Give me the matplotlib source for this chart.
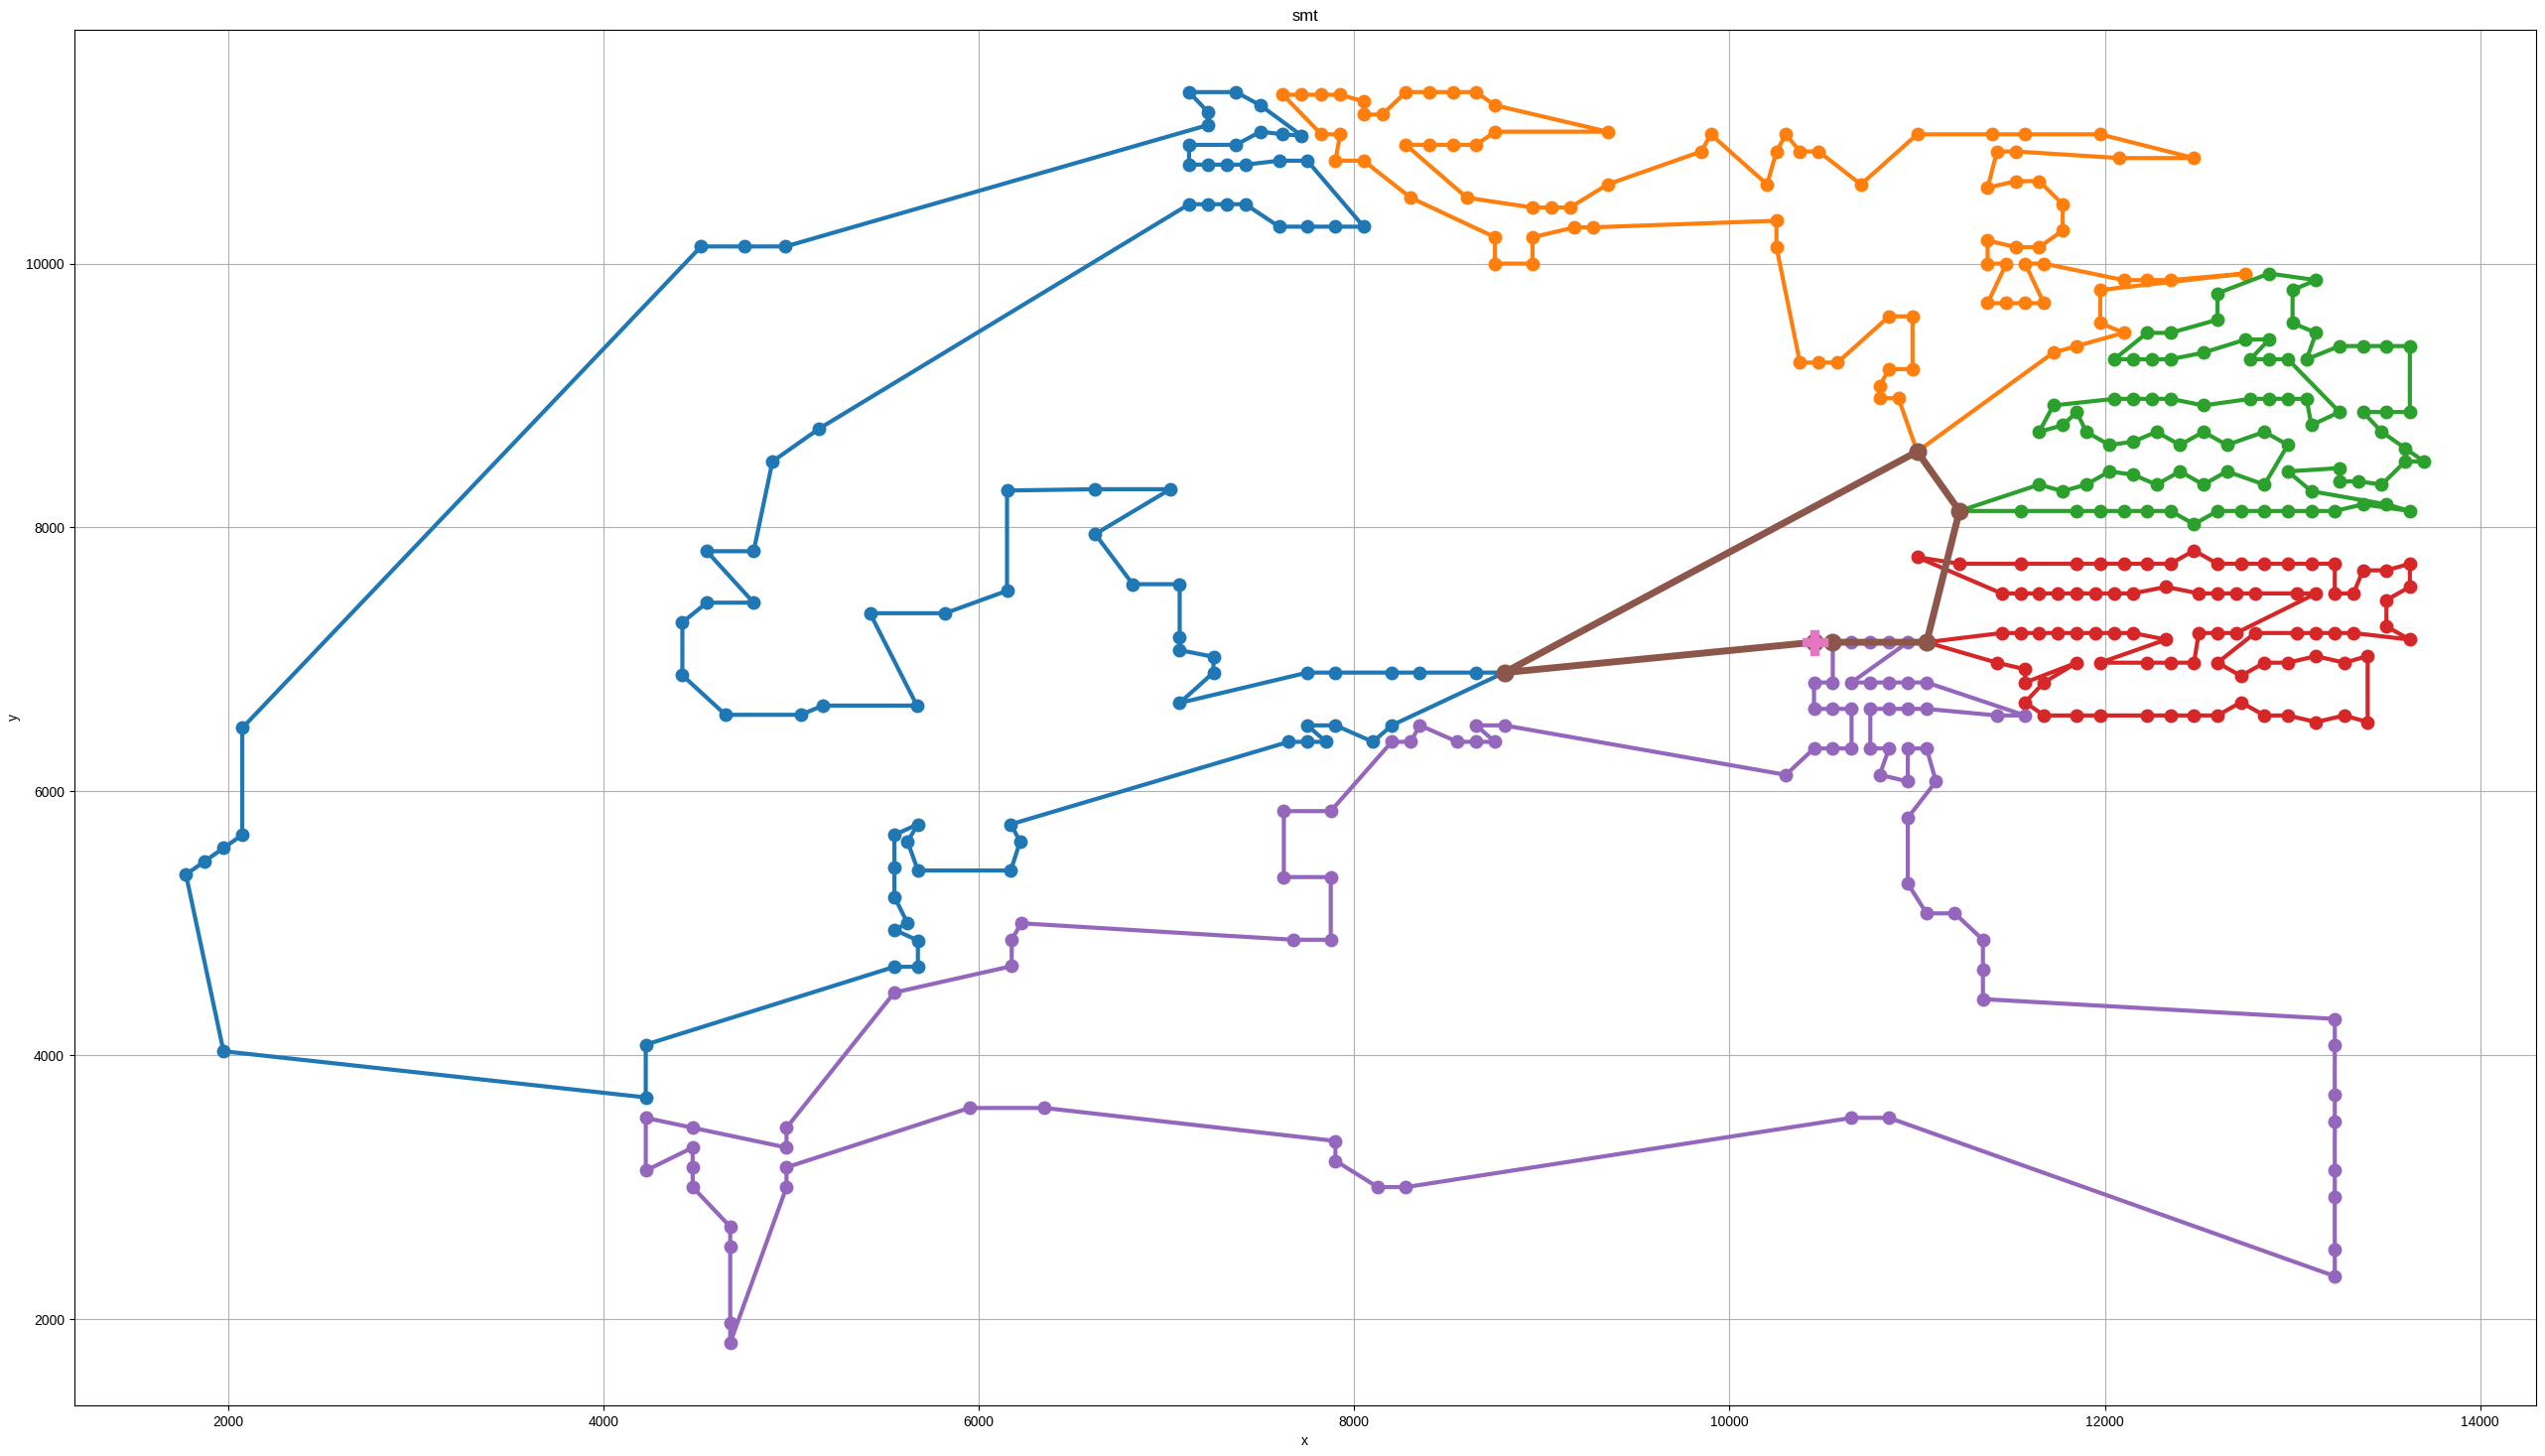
import matplotlib

matplotlib.use("Agg")
import matplotlib.pyplot as plt

plt.rcParams["font.family"] = ["Liberation Sans", "DejaVu Sans"]

# route 1 (blue) starts/ends at hub (8800, 6900)
blue_x = [8800, 8650, 8350, 8200, 7900, 7750, 7070, 7250, 7250, 7070, 7070, 7070, 6820, 6620,
          7020, 6620, 6150, 6150, 5820, 5420, 5670, 5170, 5050, 4650, 4420, 4420, 4550, 4800,
          4550, 4800, 4900, 5150, 7120, 7220, 7320, 7420, 7600, 7750, 7900, 8050, 7750, 7600,
          7420, 7320, 7220, 7120, 7120, 7370, 7500, 7620, 7720, 7500, 7370, 7120, 7220, 7220,
          4970, 4750, 4520, 2075, 2075, 1975, 1875, 1775, 1975, 4225, 4225, 5550, 5675, 5675,
          5550, 5620, 5550, 5550, 5550, 5675, 5620, 5675, 6170, 6220, 6170, 7650, 7750, 7850,
          7750, 7900, 8100, 8200, 8800]
blue_y = [6900, 6900, 6900, 6900, 6900, 6900, 6670, 6900, 7020, 7070, 7170, 7570, 7570, 7950,
          8290, 8290, 8280, 7520, 7350, 7350, 6650, 6650, 6580, 6580, 6880, 7280, 7430, 7430,
          7820, 7820, 8500, 8750, 10450, 10450, 10450, 10450, 10280, 10280, 10280, 10280, 10780, 10780,
          10750, 10750, 10750, 10750, 10900, 10900, 11000, 10980, 10970, 11200, 11300, 11300, 11150, 11050,
          10130, 10130, 10130, 6480, 5670, 5570, 5470, 5370, 4030, 3680, 4080, 4670, 4670, 4870,
          4950, 5000, 5200, 5420, 5670, 5750, 5620, 5400, 5400, 5620, 5750, 6375, 6375, 6375,
          6500, 6500, 6375, 6500, 6900]

# route 2 (orange) from hub (11000, 8575)
orange_x = [11000, 10900, 10800, 10800, 10850, 10975, 10975, 10850, 10575, 10475, 10375, 10250,
            10250, 9275, 9175, 8950, 8950, 8750, 8750, 8300, 8050, 7900, 7925, 7825, 7620, 7720,
            7825, 7925, 8050, 8050, 8150, 8275, 8400, 8525, 8650, 8750, 9350, 8750, 8650, 8525,
            8400, 8275, 8600, 8950, 9050, 9150, 9350, 9850, 9900, 10200, 10250, 10300, 10375,
            10475, 10700, 11000, 11400, 11575, 11975, 12475, 12075, 11525, 11425, 11375, 11525,
            11650, 11775, 11775, 11650, 11525, 11375, 11375, 11475, 11375, 11475, 11575, 11675,
            11575, 11675, 12100, 12225, 12350, 12750, 11975, 11975, 12100, 11850, 11725, 11000]
orange_y = [8575, 8980, 8980, 9075, 9200, 9200, 9600, 9600, 9250, 9250, 9250, 10125,
            10325, 10275, 10275, 10200, 10000, 10000, 10200, 10500, 10780, 10780, 10980, 10980, 11280, 11280,
            11280, 11280, 11230, 11130, 11130, 11300, 11300, 11300, 11300, 11200, 11000, 11000, 10900, 10900,
            10900, 10900, 10500, 10425, 10425, 10425, 10600, 10850, 10980, 10600, 10850, 10980, 10850,
            10850, 10600, 10980, 10980, 10980, 10980, 10800, 10800, 10850, 10850, 10575, 10625,
            10625, 10450, 10250, 10125, 10125, 10175, 10000, 10000, 9700, 9700, 9700, 9700,
            10000, 10000, 9875, 9875, 9875, 9925, 9800, 9550, 9475, 9375, 9325, 8575]

# route 3 (green) from hub (11225, 8125)
green_x = [11225, 11650, 11775, 11900, 12025, 12150, 12275, 12400, 12525, 12650, 12850, 12975,
           12850, 12650, 12525, 12400, 12275, 12150, 12025, 11900, 11850, 11775, 11650, 11725,
           12050, 12150, 12250, 12350, 12525, 12775, 12875, 12975, 13075, 13100, 13250, 12975,
           12875, 12775, 12875, 12750, 12525, 12350, 12250, 12150, 12050, 12225, 12350, 12600,
           12600, 12875, 13125, 13000, 13000, 13125, 13075, 13250, 13375, 13500, 13625, 13625,
           13500, 13375, 13475, 13600, 13700, 13600, 13475, 13350, 13250, 13250, 12975, 13100,
           13500, 13625, 13375, 13225, 13100, 12975, 12850, 12725, 12600, 12475, 12350, 12225,
           12100, 11975, 11850, 11550, 11225]
green_y = [8125, 8325, 8275, 8325, 8425, 8400, 8325, 8425, 8325, 8425, 8325, 8625,
           8725, 8625, 8725, 8625, 8725, 8650, 8625, 8725, 8875, 8775, 8725, 8925,
           8975, 8975, 8975, 8975, 8925, 8975, 8975, 8975, 8975, 8775, 8875, 9275,
           9275, 9275, 9425, 9425, 9325, 9275, 9275, 9275, 9275, 9475, 9475, 9575,
           9775, 9925, 9875, 9800, 9550, 9475, 9275, 9375, 9375, 9375, 9375, 8875,
           8875, 8875, 8725, 8600, 8500, 8500, 8325, 8350, 8350, 8450, 8425, 8275,
           8175, 8125, 8175, 8125, 8125, 8125, 8125, 8125, 8125, 8025, 8125, 8125,
           8125, 8125, 8125, 8125, 8125]

# route 4 (red) from hub (11050, 7130)
red_x = [11050, 11425, 11575, 11575, 11850, 11675, 11575, 11675, 11850, 11975, 12225, 12350,
         12475, 12600, 12725, 12850, 12975, 13125, 13275, 13400, 13400, 13275, 13125, 12975,
         12850, 12725, 12600, 12800, 13025, 13125, 13225, 13325, 13625, 13500, 13500, 13625,
         13625, 13500, 13375, 13325, 13225, 13225, 13100, 12975, 12850, 12725, 12600, 12475,
         12350, 12225, 12100, 11975, 11850, 11550, 11225, 11000, 11450, 11550, 11650, 11750,
         11850, 11950, 12050, 12150, 12325, 12500, 12600, 12700, 12800, 13025, 13125, 12700,
         12600, 12500, 12475, 12350, 12225, 11975, 12325, 12150, 12050, 11950, 11850, 11750,
         11650, 11550, 11450, 11050]
red_y = [7130, 6975, 6925, 6825, 6975, 6825, 6675, 6575, 6575, 6575, 6575, 6575,
         6575, 6575, 6675, 6575, 6575, 6525, 6575, 6525, 7025, 6975, 7025, 6975,
         6975, 6875, 6975, 7200, 7200, 7200, 7200, 7200, 7150, 7250, 7450, 7550,
         7725, 7675, 7675, 7500, 7500, 7725, 7725, 7725, 7725, 7725, 7725, 7825,
         7725, 7725, 7725, 7725, 7725, 7725, 7725, 7775, 7500, 7500, 7500, 7500,
         7500, 7500, 7500, 7500, 7550, 7500, 7500, 7500, 7500, 7500, 7500, 7200,
         7200, 7200, 6975, 6975, 6975, 6975, 7150, 7200, 7200, 7200, 7200, 7200,
         7200, 7200, 7200, 7130]

# route 5 (purple) from hub (10550, 7130)
purple_x = [10550, 10550, 10450, 10450, 10550, 10650, 10650, 10550, 10450, 10300, 8800, 8650,
            8750, 8650, 8550, 8350, 8300, 8200, 7875, 7625, 7625, 7875, 7875, 7675, 6225, 6175,
            6175, 5550, 4975, 4975, 4475, 4225, 4225, 4475, 4475, 4475, 4675, 4675, 4675, 4675,
            4975, 4975, 5950, 6350, 7900, 7900, 8125, 8275, 10650, 10850, 13225, 13225, 13225,
            13225, 13225, 13225, 13225, 13225, 11350, 11350, 11350, 11200, 11050, 10950, 10950,
            11100, 11050, 10950, 10950, 10800, 10850, 10750, 10750, 10850, 10950, 11050, 11425,
            11575, 11050, 10950, 10850, 10750, 10650, 10950, 10850, 10750, 10650, 10550]
purple_y = [7130, 6825, 6825, 6625, 6625, 6625, 6325, 6325, 6325, 6125, 6500, 6500,
            6375, 6375, 6375, 6500, 6375, 6375, 5850, 5850, 5350, 5350, 4875, 4875, 5000, 4875,
            4675, 4475, 3450, 3300, 3450, 3525, 3125, 3300, 3150, 3000, 2700, 2550, 1970, 1820,
            3000, 3150, 3600, 3600, 3350, 3200, 3000, 3000, 3525, 3525, 2325, 2525, 2925,
            3125, 3500, 3700, 4075, 4275, 4425, 4650, 4875, 5075, 5075, 5300, 5800,
            6075, 6325, 6325, 6075, 6125, 6325, 6325, 6625, 6625, 6625, 6625, 6575,
            6575, 6825, 6825, 6825, 6825, 6825, 7130, 7130, 7130, 7130, 7130]

# hubs loop (brown) and depot (pink)
hub_x = [10450, 8800, 11000, 11225, 11050, 10550, 10450]
hub_y = [7130, 6900, 8575, 8125, 7130, 7130, 7130]
depot_x = [10450]
depot_y = [7130]

routes = [(blue_x, blue_y), (orange_x, orange_y), (green_x, green_y),
          (red_x, red_y), (purple_x, purple_y)]

fig, ax = plt.subplots(figsize=(25.64, 14.67), dpi=100)
fig.subplots_adjust(left=0.0291, right=0.9964, bottom=0.0348, top=0.9797)

for rx, ry in routes:
    ax.plot(rx, ry, "-o", linewidth=3, markersize=9)
ax.plot(hub_x, hub_y, "-o", linewidth=5, markersize=12)
ax.plot(depot_x, depot_y, "P", markersize=18)

ax.set_title("smt")
ax.set_xlabel("x")
ax.set_ylabel("y")
ax.grid(True)

fig.savefig("out.png", dpi=100)
